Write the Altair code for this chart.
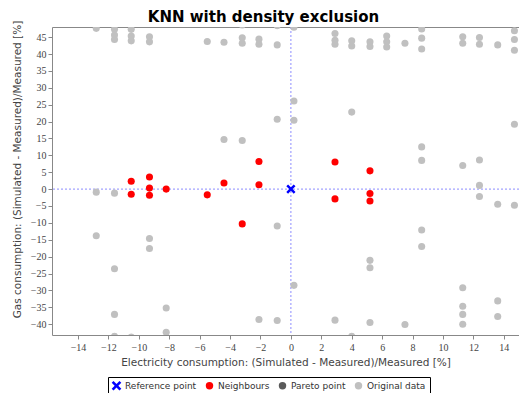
import altair as alt
import pandas as pd

# ---- data ----
orig_x = [-12.8, -11.6, -11.6, -11.6, -10.5, -10.5, -10.5, -9.3, -9.3, -5.5, -4.4, -3.2, -3.2, -3.2,
          -2.1, -2.1, -0.9, -0.9, 0.2, 2.9, 2.9, 2.9, 4.0, 4.0, 5.2, 5.2, 6.3, 6.3, 6.3, 7.5,
          8.6, 8.6, 8.6, 11.3, 11.3, 12.4, 12.4, 13.6, 14.7, 14.7, 14.7,
          0.2, 0.2, -0.9, -4.4, -3.2, 4.0, 14.7, 8.6, 8.6, 11.3, 12.4, 12.4, 12.4, 13.6, 14.7,
          -12.8, -11.6, -0.9, -12.8, -9.3, -9.3, -11.6, 0.2, -8.2, -11.6, -2.1, -0.9, -8.2,
          -11.6, -10.5, 8.6, 8.6, 5.2, 5.2, 11.3, 11.3, 11.3, 11.3, 13.6, 13.6, 2.9, 5.2, 7.5, 4.0]
orig_y = [47.6, 47.3, 45.6, 44.3, 47.3, 45.3, 43.9, 45.1, 43.6, 43.7, 43.5, 48.6, 44.8, 43.2,
          44.4, 42.9, 48.4, 42.7, 47.9, 46.1, 44.1, 42.9, 43.9, 42.4, 43.6, 42.2, 45.3, 43.6, 42.1, 43.2,
          47.4, 44.7, 41.5, 45.1, 43.2, 44.9, 42.9, 42.7, 46.9, 44.3, 41.1,
          26.1, 20.4, 20.7, 14.7, 14.4, 22.8, 19.2, 12.5, 8.5, 7.0, 8.6, 1.1, -2.2, -4.5, -4.8,
          -0.9, -1.2, -10.9, -13.8, -14.6, -17.6, -23.6, -28.5, -35.2, -37.1, -38.6, -38.9, -42.4,
          -43.6, -43.8, -12.1, -17.0, -21.1, -23.3, -29.2, -34.7, -37.1, -40.0, -33.1, -37.7, -38.8, -39.5, -40.1, -43.6]

nb_x = [-2.1, 2.9, 5.2, -10.5, -9.3, -9.3, -10.5, -9.3, -8.2, -5.5, -4.4, -2.1, -3.2, 2.9, 5.2, 5.2]
nb_y = [8.2, 8.0, 5.4, 2.3, 3.6, 0.3, -1.5, -1.8, 0.0, -1.7, 1.8, 1.3, -10.3, -2.9, -1.3, -3.5]

ref_x = [0.0]
ref_y = [0.0]

x_ticks = list(range(-14, 15, 2))
y_ticks = list(range(-40, 46, 5))

categories = ["Reference point", "Neighbours", "Pareto point", "Original data"]
cat_colors = ["#0000ff", "#ff0000", "#5a5a5a", "#c0c0c0"]
X_PATH = ("M-1.3,-0.8 L-0.8,-1.3 L0,-0.5 L0.8,-1.3 L1.3,-0.8 L0.5,0 L1.3,0.8 "
          "L0.8,1.3 L0,0.5 L-0.8,1.3 L-1.3,0.8 L-0.5,0 Z")
cat_shapes = [X_PATH, "circle", "circle", "circle"]

rows = []
for x, y in zip(orig_x, orig_y):
    rows.append({"x": x, "y": y, "cat": "Original data"})
for x, y in zip(nb_x, nb_y):
    rows.append({"x": x, "y": y, "cat": "Neighbours"})
for x, y in zip(ref_x, ref_y):
    rows.append({"x": x, "y": y, "cat": "Reference point"})
df = pd.DataFrame(rows)

scale_x = alt.Scale(domain=[-15.71, 15.0], nice=False, zero=False)
scale_y = alt.Scale(domain=[-43.2, 48.0], nice=False, zero=False)

x_axis = alt.Axis(values=x_ticks, labelOverlap=False,
                  title="Electricity consumption: (Simulated - Measured)/Measured [%]")
y_axis = alt.Axis(values=y_ticks, labelOverlap=False,
                  title="Gas consumption: (Simulated - Measured)/Measured [%]", titleY=142)

legend = alt.Legend(
    title=None, orient="none", legendX=56, legendY=350, direction="horizontal",
    columns=4, gridAlign="each", strokeColor="black", padding=4, cornerRadius=0,
    labelFont="DejaVu Sans", labelFontSize=9, labelColor="#333333",
    symbolSize=55, symbolStrokeWidth=0, labelOffset=4, columnPadding=8,
)

points = alt.Chart(df).mark_point(filled=True, size=50, opacity=1, clip=True).encode(
    x=alt.X("x:Q", scale=scale_x, axis=x_axis),
    y=alt.Y("y:Q", scale=scale_y, axis=y_axis),
    color=alt.Color("cat:N", scale=alt.Scale(domain=categories, range=cat_colors), legend=legend),
    shape=alt.Shape("cat:N", scale=alt.Scale(domain=categories, range=cat_shapes), legend=legend),
)

vrule = alt.Chart(pd.DataFrame({"x": ref_x})).mark_rule(
    color="#8c8cff", strokeDash=[2, 2], strokeWidth=1
).encode(x=alt.X("x:Q", scale=scale_x, axis=x_axis))
hrule = alt.Chart(pd.DataFrame({"y": ref_y})).mark_rule(
    color="#8c8cff", strokeDash=[2, 2], strokeWidth=1
).encode(y=alt.Y("y:Q", scale=scale_y, axis=y_axis))

chart = alt.layer(vrule, hrule, points).properties(
    width=467, height=308,
    autosize=alt.AutoSizeParams(type="none"),
    padding={"left": 44, "top": 19, "right": 0, "bottom": 58},
    title=alt.TitleParams("KNN with density exclusion", font="DejaVu Sans", fontSize=15,
                          fontWeight="bold", color="black", anchor="middle", dx=-22,
                          baseline="bottom", offset=0, dy=20),
).configure_view(
    stroke="#888888", strokeWidth=1
).configure_axis(
    grid=False, domain=False, tickColor="#888888", tickSize=4,
    labelFont="Liberation Sans Narrow", labelFontSize=10, labelColor="#444444",
    titleFont="DejaVu Sans", titleFontSize=10.5, titleFontWeight="normal", titleColor="#444444",
).configure_axisX(
    labelPadding=3, titlePadding=5
).configure_axisY(
    labelPadding=2, titlePadding=8
)

chart.save("out.html", embed_options={"renderer": "svg", "actions": False})
